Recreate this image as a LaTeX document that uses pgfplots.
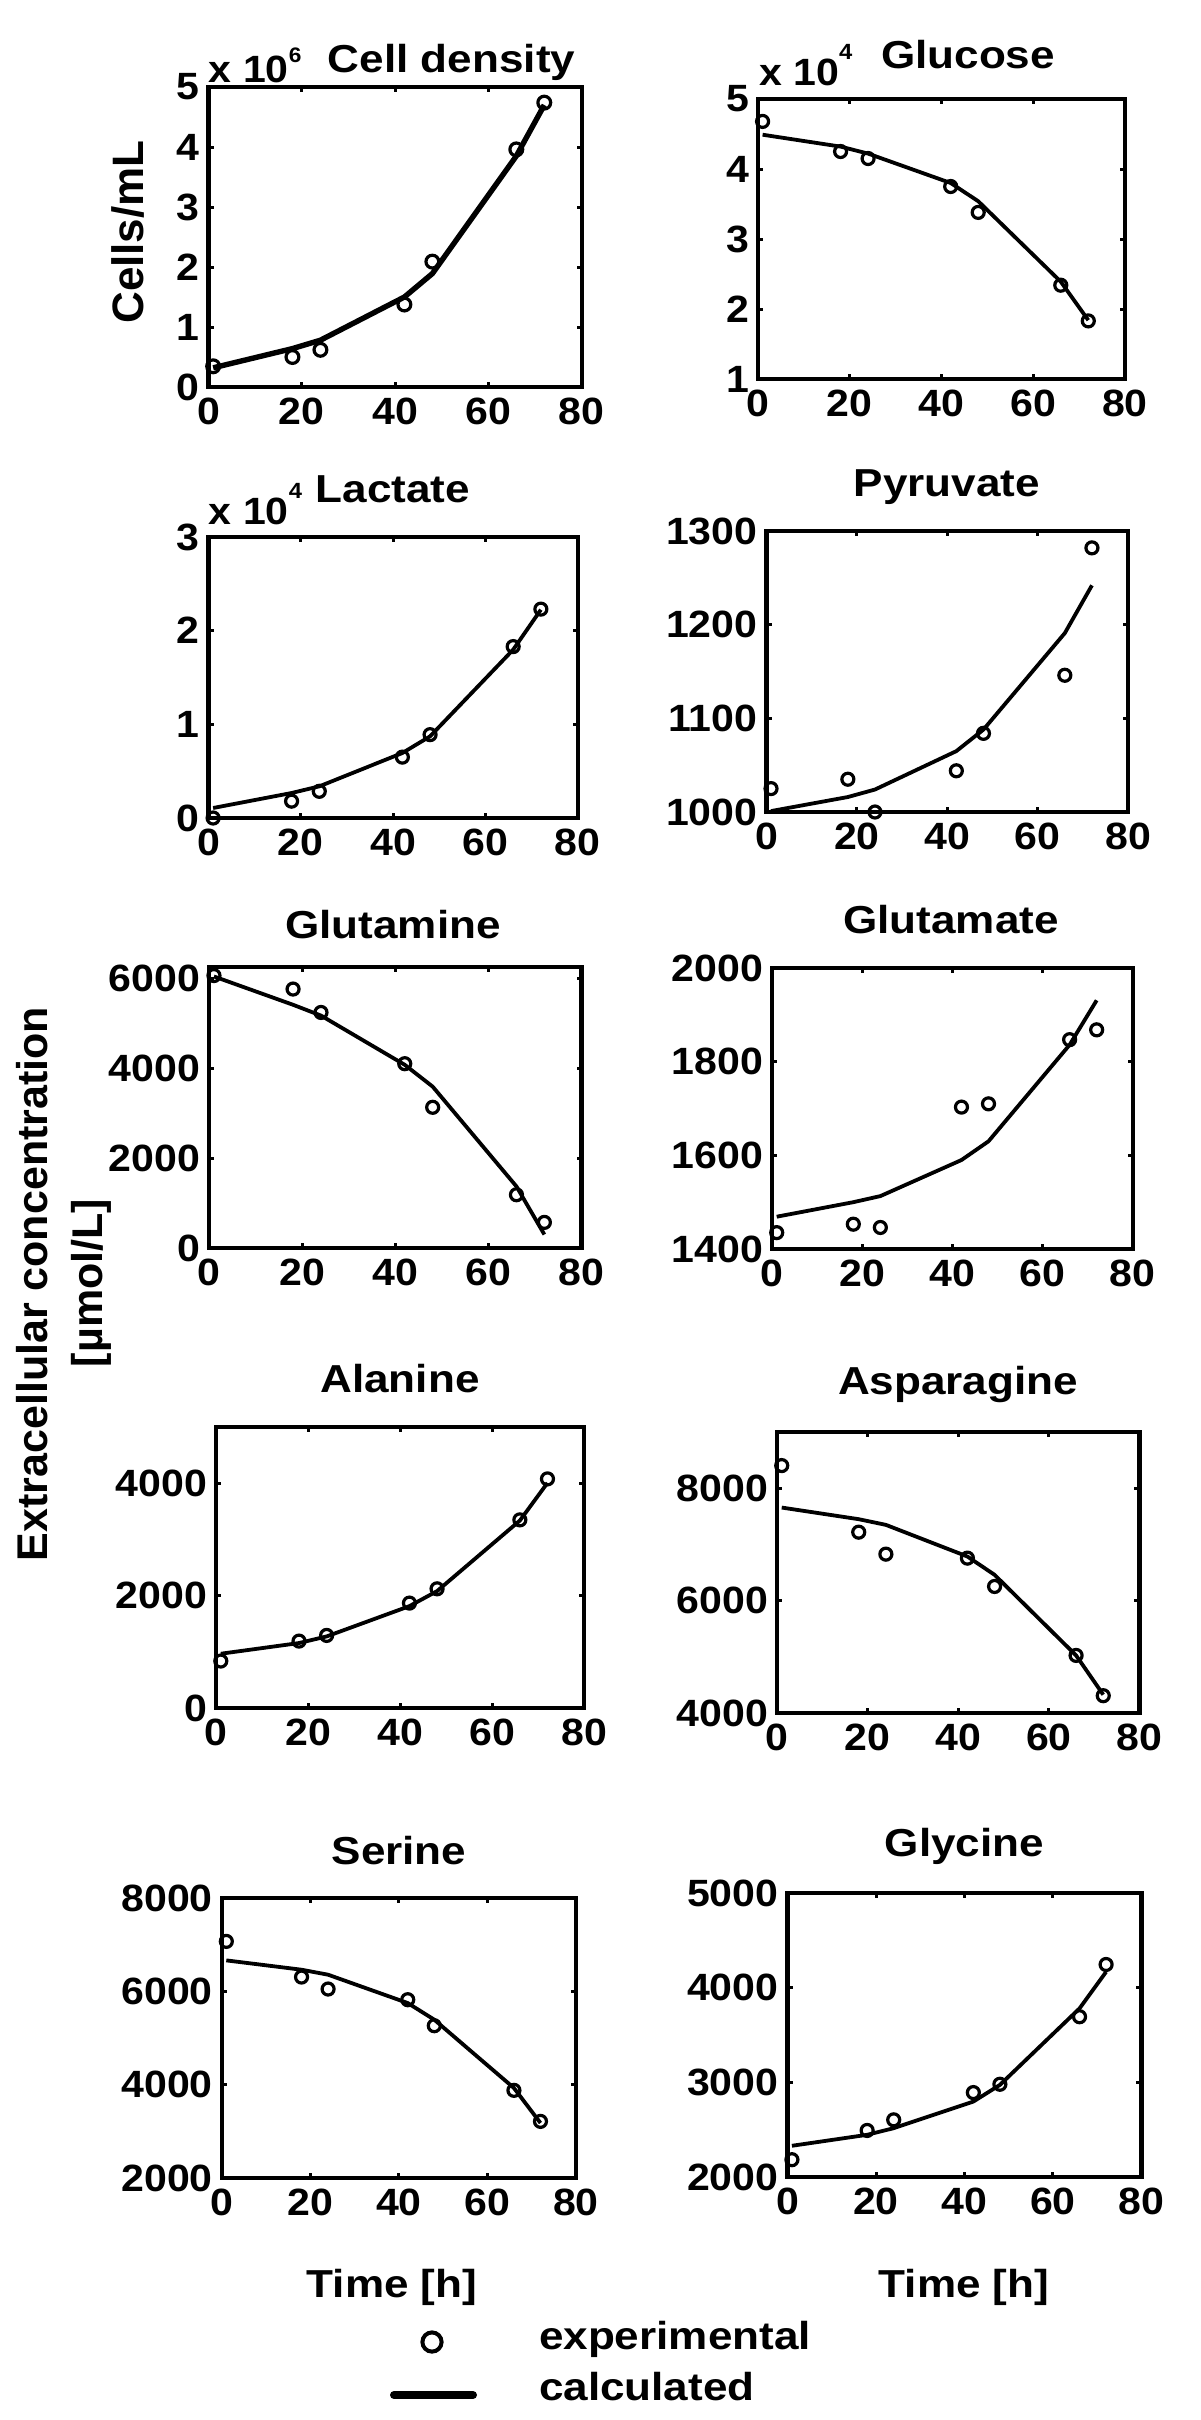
\documentclass[border=0pt]{standalone}
\usepackage{fontspec}
\setmainfont{Liberation Sans}
\usepackage{pgfplots}
\pgfplotsset{compat=1.18}
\newcommand{\tf}{\fontsize{19.5}{22}\selectfont\bfseries}
\newcommand{\lf}{\fontsize{21.5}{24}\selectfont\bfseries}
\newcommand{\tkf}{\fontsize{19}{21}\selectfont\bfseries}
\newcommand{\hs}[1]{\scalebox{1.13}[1]{#1}}
\newcommand{\hk}[1]{\scalebox{1.08}[1]{#1}}
\pgfplotsset{
  panel/.style={
    scale only axis, anchor=south west, clip=false,
    xmin=0, xmax=80, xtick={0,20,40,60,80},
    tick align=inside, xtick pos=both, ytick pos=both,
    xticklabel pos=left, yticklabel pos=left,
    major tick length=2.5pt,
    axis line style={line width=2.1pt},
    every tick/.style={black, line width=1.5pt},
    scaled ticks=false,
    /pgf/number format/1000 sep={},
    /pgf/number format/assume math mode=true,
    tick label style={font=\tkf, xscale=1.08},
    yticklabel style={inner sep=0pt, xshift=-4pt},
    xticklabel style={inner sep=0pt, yshift=-5.5pt},
  },
  calc/.style={black, line width=1.9pt, no markers, line join=round},
  expt/.style={black, only marks, mark=o, mark size=3pt, mark options={line width=1.6pt}},
}
\begin{document}
\begin{tikzpicture}
\useasboundingbox (0,0) rectangle (600pt,-1210pt);
% Cell density
\begin{axis}[panel, at={(104.25pt,-193.5pt)}, width=186.55pt, height=150pt,
  ymin=0, ymax=5000000, ytick={0,1000000,2000000,3000000,4000000,5000000}, yticklabels={0,1,2,3,4,5}]
\addplot[calc, line width=2.7pt] coordinates {(1,320000) (18,640000) (24,780000) (42,1500000) (48,1890000) (66,3850000) (72,4700000)};
\addplot[expt, mark size=3.2pt] coordinates {(1,345000) (18,500000) (24,620000) (42,1375000) (48,2090000) (66,3960000) (72,4740000)};
\end{axis}
% Glucose
\begin{axis}[panel, at={(379pt,-189.5pt)}, width=183.5pt, height=140pt,
  ymin=10000, ymax=50000, ytick={10000,20000,30000,40000,50000}, yticklabels={1,2,3,4,5}]
\addplot[calc] coordinates {(1,44900) (18,43200) (24,42200) (42,38000) (48,35400) (66,23900) (72,18400)};
\addplot[expt] coordinates {(1,46800) (18,42500) (24,41500) (42,37500) (48,33800) (66,23400) (72,18300)};
\end{axis}
% Lactate
\begin{axis}[panel, at={(104.25pt,-409pt)}, width=184.65pt, height=140.5pt,
  ymin=0, ymax=30000, ytick={0,10000,20000,30000}, yticklabels={0,1,2,3}]
\addplot[calc] coordinates {(1,1070) (18,2670) (24,3380) (42,6940) (48,8720) (66,17970) (72,22240)};
\addplot[expt] coordinates {(1,0) (18,1800) (24,2850) (42,6500) (48,8900) (66,18300) (72,22300)};
\end{axis}
% Pyruvate
\begin{axis}[panel, at={(383.25pt,-406pt)}, width=180.8pt, height=140.5pt,
  ymin=1000, ymax=1300, ytick={1000,1100,1200,1300}]
\addplot[calc] coordinates {(1,1001) (18,1016) (24,1024) (42,1065) (48,1088) (66,1191) (72,1242)};
\addplot[expt] coordinates {(1,1025) (18,1035) (24,1000) (42,1044) (48,1084) (66,1146) (72,1282)};
\end{axis}
% Glutamine
\begin{axis}[panel, at={(104.65pt,-624pt)}, width=186.15pt, height=140.5pt,
  ymin=0, ymax=6250, ytick={0,2000,4000,6000}]
\addplot[calc] coordinates {(1,6040) (18,5410) (24,5170) (42,4075) (48,3590) (66,1370) (72,300)};
\addplot[expt] coordinates {(1,6060) (18,5760) (24,5240) (42,4100) (48,3130) (66,1185) (72,570)};
\end{axis}
% Glutamate
\begin{axis}[panel, at={(386.1pt,-624.5pt)}, width=180.25pt, height=140.5pt,
  ymin=1400, ymax=2000, ytick={1400,1600,1800,2000}]
\addplot[calc] coordinates {(1,1469) (18,1500) (24,1513) (42,1590) (48,1630) (66,1836) (72,1931)};
\addplot[expt] coordinates {(1,1435) (18,1453) (24,1446) (42,1703) (48,1710) (66,1847) (72,1868)};
\end{axis}
% Alanine
\begin{axis}[panel, at={(108.1pt,-854pt)}, width=184.05pt, height=140.5pt,
  ymin=0, ymax=5000, ytick={0,2000,4000}]
\addplot[calc] coordinates {(1,966) (18,1156) (24,1274) (42,1813) (48,2080) (66,3336) (72,4006)};
\addplot[expt] coordinates {(1,836) (18,1191) (24,1292) (42,1867) (48,2121) (66,3348) (72,4077)};
\end{axis}
% Asparagine
\begin{axis}[panel, at={(388.6pt,-856.5pt)}, width=181.15pt, height=140.5pt,
  ymin=4000, ymax=9000, ytick={4000,6000,8000}]
\addplot[calc] coordinates {(1,7656) (18,7449) (24,7348) (42,6785) (48,6459) (66,5025) (72,4326)};
\addplot[expt] coordinates {(1,8403) (18,7218) (24,6827) (42,6756) (48,6252) (66,5025) (72,4308)};
\end{axis}
% Serine (carries the legend)
\begin{axis}[panel, at={(110.95pt,-1089pt)}, width=177pt, height=140pt,
  ymin=2000, ymax=8000, ytick={2000,4000,6000,8000},
  legend style={draw=none, fill=none, inner sep=0pt, outer sep=0pt,
    at={(axis description cs:0.4749,-0.5107)}, anchor=north west,
    font=\tf, row sep=7.5pt, column sep=31pt,
    nodes={inner sep=0pt, text height=14pt, text depth=4pt, anchor=base west}},
  legend cell align=left]
\addplot[calc, forget plot] coordinates {(1,6664) (18,6464) (24,6357) (42,5750) (48,5393) (66,3929) (72,3179)};
\addplot[expt, forget plot] coordinates {(1,7071) (18,6307) (24,6050) (42,5821) (48,5264) (66,3879) (72,3214)};
\addlegendimage{legend image code/.code={\draw[black, line width=2pt] (21pt,3.5pt) circle (4.8pt);}}
\addlegendentry{\hs{experimental}}
\addlegendimage{legend image code/.code={\draw[black, line width=4pt, line cap=round] (2pt,2.5pt) -- (41.5pt,2.5pt);}}
\addlegendentry{\hs{calculated}}
\end{axis}
% Glycine
\begin{axis}[panel, at={(393.75pt,-1088.5pt)}, width=177pt, height=142pt,
  ymin=2000, ymax=5000, ytick={2000,3000,4000,5000}]
\addplot[calc] coordinates {(1,2330) (18,2446) (24,2516) (42,2797) (48,2973) (66,3781) (72,4167)};
\addplot[expt] coordinates {(1,2183) (18,2492) (24,2604) (42,2892) (48,2980) (66,3693) (72,4245)};
\end{axis}
% texts, in pixel units of the reference
\begin{scope}[x=0.5pt, y=-0.5pt]
\node[anchor=base, font=\tf, inner sep=0pt] at (451.6,72) {\hs{Cell density}};
\node[anchor=base, font=\tf, inner sep=0pt] at (968,68) {\hs{Glucose}};
\node[anchor=base, font=\tf, inner sep=0pt] at (393,502) {\hs{Lactate}};
\node[anchor=base, font=\tf, inner sep=0pt] at (947,496) {\hs{Pyruvate}};
\node[anchor=base, font=\tf, inner sep=0pt] at (393,938) {\hs{Glutamine}};
\node[anchor=base, font=\tf, inner sep=0pt] at (951,933) {\hs{Glutamate}};
\node[anchor=base, font=\tf, inner sep=0pt] at (400,1392) {\hs{Alanine}};
\node[anchor=base, font=\tf, inner sep=0pt] at (958,1394) {\hs{Asparagine}};
\node[anchor=base, font=\tf, inner sep=0pt] at (399,1864) {\hs{Serine}};
\node[anchor=base, font=\tf, inner sep=0pt] at (964.5,1856) {\hs{Glycine}};
\node[anchor=base west, font=\tkf, inner sep=0pt] at (208.5,82) {\hk{x 10\raisebox{10pt}{\fontsize{10.5}{12}\selectfont 6}}};
\node[anchor=base west, font=\tkf, inner sep=0pt] at (758.8,85) {\hk{x 10\raisebox{13pt}{\fontsize{11}{12}\selectfont 4}}};
\node[anchor=base west, font=\tkf, inner sep=0pt] at (208.5,524) {\hk{x 10\raisebox{13pt}{\fontsize{11}{12}\selectfont 4}}};
\node[anchor=base, rotate=90, font=\fontsize{22}{24}\selectfont\bfseries, inner sep=0pt] at (143.5,232) {Cells/mL};
\node[anchor=base, rotate=90, font=\lf, inner sep=0pt] at (47.5,1284) {Extracellular concentration};
\node[anchor=base, rotate=90, font=\lf, inner sep=0pt] at (102,1283) {[µmol/L]};
\node[anchor=base, font=\tf, inner sep=0pt] at (392,2297) {\hs{Time [h]}};
\node[anchor=base, font=\tf, inner sep=0pt] at (964,2297) {\hs{Time [h]}};
\end{scope}
\end{tikzpicture}
\end{document}
